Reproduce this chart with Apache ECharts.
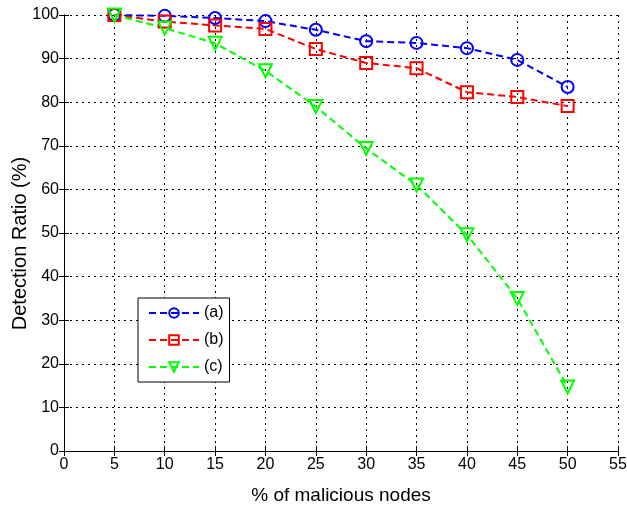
<!DOCTYPE html>
<html>
<head>
<meta charset="utf-8">
<script src="https://cdn.jsdelivr.net/npm/echarts@6/dist/echarts.min.js"></script>
<style>html,body{margin:0;padding:0;background:#fff}#c{width:627px;height:507px}</style>
</head>
<body>
<div id="c"></div>
<script>
var nodes = [5, 10, 15, 20, 25, 30, 35, 40, 45, 50];
var seriesA = [100, 99.8, 99.3, 98.6, 96.6, 94.0, 93.6, 92.4, 89.7, 83.5];
var seriesB = [100, 98.5, 97.6, 96.8, 92.2, 89.0, 87.8, 82.3, 81.2, 79.1];
var seriesC = [100, 97.0, 93.5, 87.2, 79.0, 69.4, 61.0, 49.6, 35.0, 14.7];
var names = ['(a)', '(b)', '(c)'];

function pairs(v) { return nodes.map(function (x, i) { return [x, v[i]]; }); }

var font = 'Liberation Sans, Arial, sans-serif';
var chart = echarts.init(document.getElementById('c'));
function mk(name, data, color, symbol, size, rot) {
  return {
    name: name, type: 'line', data: pairs(data),
    symbol: symbol, symbolSize: size, symbolRotate: rot || 0,
    lineStyle: { color: color, width: 2, type: [7, 4] },
    itemStyle: { color: 'rgba(0,0,0,0)', borderColor: color, borderWidth: 2 },
    emphasis: { disabled: true }, animation: false, z: 3
  };
}
chart.setOption({
  animation: false,
  backgroundColor: '#fff',
  grid: { left: 64, right: 9, top: 15, bottom: 56, containLabel: false, outerBoundsMode: 'none' },
  legend: {
    orient: 'vertical', left: 138, top: 298,
    data: names,
    itemWidth: 50, itemHeight: 12, itemGap: 11,
    padding: [7, 6, 7, 10],
    borderColor: '#000', borderWidth: 1, backgroundColor: '#fff',
    textStyle: { fontFamily: font, fontSize: 16, color: '#000' }
  },
  xAxis: [{
    type: 'value', min: 0, max: 55, interval: 5,
    name: '% of malicious nodes', nameLocation: 'middle', nameGap: 35, nameMoveOverlap: false,
    nameTextStyle: { fontFamily: font, fontSize: 19, color: '#000' },
    axisLine: { show: true, lineStyle: { color: '#000', width: 1 } },
    axisTick: { show: true, inside: true, length: 5, lineStyle: { color: '#000' } },
    axisLabel: { fontFamily: font, fontSize: 16, color: '#000', margin: 6 },
    splitLine: { show: true, lineStyle: { color: '#000', width: 1, type: [2, 4] } }
  }, {
    type: 'value', min: 0, max: 55, interval: 5, position: 'top',
    axisLine: { show: true, lineStyle: { color: '#000', width: 1 } },
    axisTick: { show: true, inside: true, length: 5, lineStyle: { color: '#000' } },
    axisLabel: { show: false }, splitLine: { show: false }
  }],
  yAxis: [{
    type: 'value', min: 0, max: 100, interval: 10,
    name: 'Detection Ratio (%)', nameLocation: 'middle', nameGap: 34, nameMoveOverlap: false,
    nameTextStyle: { fontFamily: font, fontSize: 20, color: '#000', padding: [0, 21, 0, 0] },
    axisLine: { show: true, lineStyle: { color: '#000', width: 1 } },
    axisTick: { show: true, inside: true, length: 5, lineStyle: { color: '#000' } },
    axisLabel: { fontFamily: font, fontSize: 16, color: '#000', margin: 5 },
    splitLine: { show: true, lineStyle: { color: '#000', width: 1, type: [2, 4] } }
  }, {
    type: 'value', min: 0, max: 100, interval: 10, position: 'right',
    axisLine: { show: true, lineStyle: { color: '#000', width: 1 } },
    axisTick: { show: true, inside: true, length: 5, lineStyle: { color: '#000' } },
    axisLabel: { show: false }, splitLine: { show: false }
  }],
  series: [
    mk(names[0], seriesA, '#0000ff', 'circle', 12),
    mk(names[1], seriesB, '#ff0000', 'rect', 12),
    mk(names[2], seriesC, '#00ff00', 'triangle', 13, 180)
  ]
});
</script>
</body>
</html>
